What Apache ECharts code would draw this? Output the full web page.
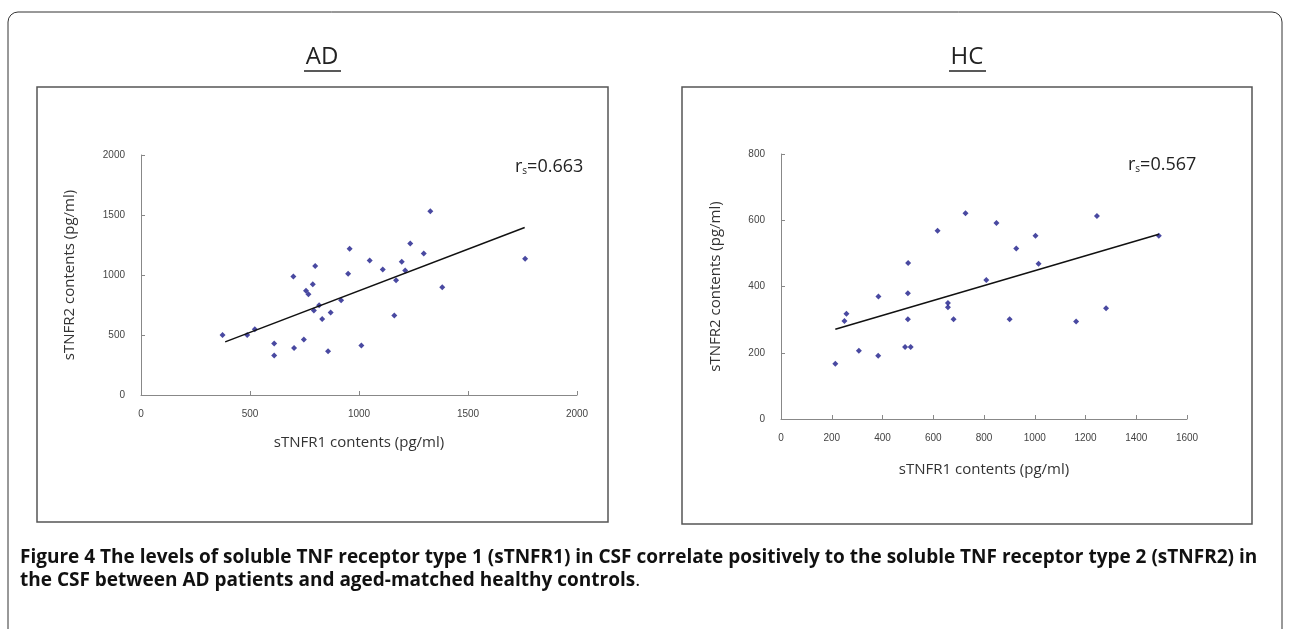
<!DOCTYPE html>
<html>
<head>
    <meta charset="utf-8" />
    <script src="https://cdn.jsdelivr.net/npm/echarts@6/dist/echarts.min.js"></script>
    <style type="text/css">
        html, body { width: 100%; height: 100%; margin: 0; background: #fff; }
        #main { width: 1290px; height: 629px; }
    </style>
</head>
<body>
    <div id="main"></div>
    <script>
        // AD: sTNFR1 (x) vs sTNFR2 (y)
        var adX = [374, 487, 522, 611, 611, 702, 699, 747, 757, 768, 788, 799, 793, 817, 831, 858, 870, 918, 950, 957, 1011, 1049, 1109, 1162, 1170, 1196, 1212, 1235, 1297, 1327, 1382, 1762];
        var adY = [500, 500, 547, 429, 330, 392, 987, 462, 868, 840, 922, 1074, 705, 747, 634, 364, 688, 790, 1010, 1218, 412, 1120, 1046, 663, 956, 1111, 1038, 1263, 1179, 1531, 897, 1136];
        var adTrendX = [386, 1760];
        var adTrendY = [443, 1396];
        // HC
        var hcX = [214, 250, 258, 307, 384, 383, 489, 511, 501, 500, 500, 617, 658, 658, 680, 727, 809, 849, 901, 927, 1003, 1015, 1163, 1245, 1281, 1489];
        var hcY = [167, 296, 318, 206, 370, 191, 217, 217, 471, 380, 301, 568, 350, 337, 301, 621, 420, 592, 301, 515, 553, 469, 294, 613, 334, 553];
        var hcTrendX = [214, 1489];
        var hcTrendY = [271, 558];

        function pairs(xs, ys) {
            return xs.map(function (x, i) { return [x, ys[i]]; });
        }

        var tick = { color: '#444', fontSize: 10, fontFamily: 'Liberation Sans', formatter: function (v) { return String(v); } };
        var axisLine = { show: true, lineStyle: { color: '#888', width: 1 } };
        var nameStyle = { color: '#333', fontSize: 15, fontFamily: 'Open Sans' };
        function xAxis(grid, max, interval, gap) {
            return {
                type: 'value', gridIndex: grid, min: 0, max: max, interval: interval,
                axisLine: axisLine, axisTick: { show: true, inside: true, length: 4, lineStyle: { color: '#888' } },
                splitLine: { show: false }, axisLabel: Object.assign({ margin: 14 }, tick),
                name: 'sTNFR1 contents (pg/ml)', nameLocation: 'middle', nameGap: gap, nameTextStyle: nameStyle
            };
        }
        function yAxis(grid, max, interval, gap) {
            return {
                type: 'value', gridIndex: grid, min: 0, max: max, interval: interval,
                axisLine: axisLine, axisTick: { show: true, inside: true, length: 4, lineStyle: { color: '#888' } },
                splitLine: { show: false }, axisLabel: Object.assign({ margin: 16 }, tick),
                name: 'sTNFR2 contents (pg/ml)', nameLocation: 'middle', nameGap: gap, nameTextStyle: nameStyle
            };
        }
        var dot = { color: '#1c1c8a' };
        var rs = { r: { fontSize: 18, fill: '#222', fontFamily: 'Open Sans' }, s: { fontSize: 10, fill: '#222', fontFamily: 'Open Sans', padding: [9, 0, 0, 0] } };

        var chart = echarts.init(document.getElementById('main'));
        chart.setOption({
            animation: false,
            grid: [
                { left: 141, top: 155, width: 436, height: 240 },
                { left: 781, top: 154, width: 406, height: 265 }
            ],
            xAxis: [xAxis(0, 2000, 500, 40), xAxis(1, 1600, 200, 43)],
            yAxis: [yAxis(0, 2000, 500, 64), yAxis(1, 800, 200, 58)],
            series: [
                { type: 'scatter', xAxisIndex: 0, yAxisIndex: 0, symbol: 'diamond', symbolSize: 6, itemStyle: dot, data: pairs(adX, adY) },
                { type: 'line', xAxisIndex: 0, yAxisIndex: 0, symbol: 'none', lineStyle: { color: '#111', width: 1.5 }, data: pairs(adTrendX, adTrendY) },
                { type: 'scatter', xAxisIndex: 1, yAxisIndex: 1, symbol: 'diamond', symbolSize: 6, itemStyle: dot, data: pairs(hcX, hcY) },
                { type: 'line', xAxisIndex: 1, yAxisIndex: 1, symbol: 'none', lineStyle: { color: '#111', width: 1.5 }, data: pairs(hcTrendX, hcTrendY) }
            ],
            graphic: [
                { type: 'rect', shape: { x: 8, y: 12, width: 1274, height: 640, r: 10 }, style: { fill: 'none', stroke: '#333', lineWidth: 1 } },
                { type: 'rect', shape: { x: 37, y: 87, width: 571, height: 435 }, style: { fill: 'none', stroke: '#555', lineWidth: 1.5 } },
                { type: 'rect', shape: { x: 682, y: 87, width: 570, height: 437 }, style: { fill: 'none', stroke: '#555', lineWidth: 1.5 } },
                { type: 'text', x: 322, y: 57, style: { text: 'AD', fill: '#222', font: '24px "Open Sans"', textAlign: 'center', textVerticalAlign: 'middle' } },
                { type: 'line', shape: { x1: 304, y1: 71, x2: 341, y2: 71 }, style: { stroke: '#222', lineWidth: 1.5 } },
                { type: 'text', x: 967, y: 57, style: { text: 'HC', fill: '#222', font: '24px "Open Sans"', textAlign: 'center', textVerticalAlign: 'middle' } },
                { type: 'line', shape: { x1: 949, y1: 71, x2: 986, y2: 71 }, style: { stroke: '#222', lineWidth: 1.5 } },
                { type: 'text', x: 515, y: 157, style: { rich: rs, text: '{r|r}{s|s}{r|=0.663}' } },
                { type: 'text', x: 1128, y: 155, style: { rich: rs, text: '{r|r}{s|s}{r|=0.567}' } },
                { type: 'text', x: 20, y: 546, style: {
                    rich: {
                        b: { fontWeight: 'bold', fontSize: 19, fill: '#111', fontFamily: 'Open Sans', lineHeight: 23 },
                        n: { fontSize: 19, fill: '#111', fontFamily: 'Open Sans', lineHeight: 23 }
                    },
                    text: '{b|Figure 4 The levels of soluble TNF receptor type 1 (sTNFR1) in CSF correlate positively to the soluble TNF receptor type 2 (sTNFR2) in}\n{b|the CSF between AD patients and aged-matched healthy controls}{n|.}'
                } }
            ]
        });
    </script>
</body>
</html>
